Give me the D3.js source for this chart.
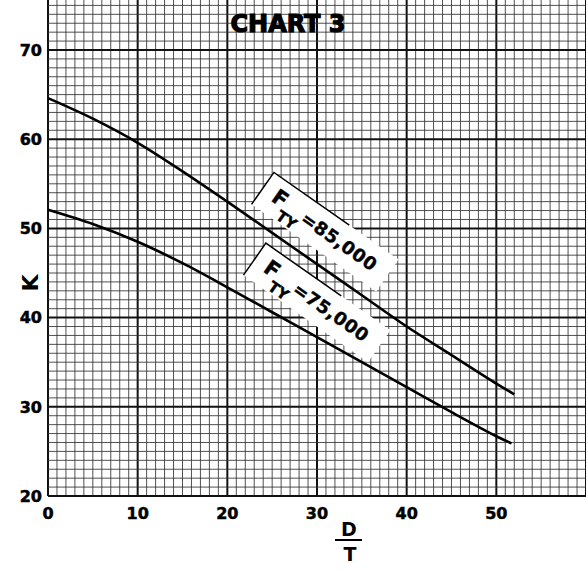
<!DOCTYPE html>
<html>
<head>
<meta charset="utf-8">
<script src="https://cdn.jsdelivr.net/npm/d3@7"></script>
<style>
  body { margin: 0; background: #fff; }
  text { font-family: "DejaVu Sans", sans-serif; font-weight: bold; fill: #000; }
</style>
</head>
<body>
<script>
    var width = 586;
    var height = 571;

    // D/T values and K
    var dtUpper = [0, 5, 10, 15, 20, 25, 30, 35, 40, 45, 50, 52];
    var kUpper = [64.6, 62.3, 59.6, 56.4, 53.0, 49.5, 46.0, 42.5, 39.0, 35.8, 32.6, 31.4];
    var dtLower = [0, 5, 10, 15, 20, 25, 30, 35, 40, 45, 50, 51.7];
    var kLower = [52.1, 50.5, 48.5, 46.1, 43.4, 40.6, 37.8, 35.0, 32.2, 29.4, 26.7, 25.9];

    var xTicks = [0, 10, 20, 30, 40, 50];
    var yTicks = [20, 30, 40, 50, 60, 70];
    var seriesNames = ["=85,000", "=75,000"];

    var svg = d3.select("body").append("svg")
      .attr("width", width)
      .attr("height", height);

    var x = d3.scaleLinear().domain([0, 60]).range([48, 586]);
    var y = d3.scaleLinear().domain([20, 70]).range([496, 50]);

    // graph paper
    var grid = svg.append("g");
    d3.range(0, 61).forEach(function(v){
      grid.append("line")
        .attr("x1", x(v)).attr("x2", x(v))
        .attr("y1", y(20)).attr("y2", 0)
        .attr("stroke", v % 10 == 0 ? "#111" : "#333")
        .attr("stroke-width", v % 10 == 0 ? 2 : 1)
        .attr("opacity", v % 10 == 0 ? 1 : 0.85);
    });
    d3.range(20, 76).forEach(function(v){
      grid.append("line")
        .attr("x1", x(0)).attr("x2", width)
        .attr("y1", y(v)).attr("y2", y(v))
        .attr("stroke", v % 10 == 0 ? "#111" : "#333")
        .attr("stroke-width", v % 10 == 0 ? 2 : 1)
        .attr("opacity", v % 10 == 0 ? 1 : 0.85);
    });

    // tick labels
    svg.selectAll(".xl").data(xTicks).enter().append("text")
      .attr("x", function(d){ return x(d); })
      .attr("y", 519)
      .attr("text-anchor", "middle")
      .style("font-size", "16px")
      .attr("stroke", "#000").attr("stroke-width", 0.5)
      .text(function(d){ return d; });

    svg.selectAll(".yl").data(yTicks).enter().append("text")
      .attr("x", 42)
      .attr("y", function(d){ return y(d); })
      .attr("dy", "0.36em")
      .attr("text-anchor", "end")
      .style("font-size", "16px")
      .attr("stroke", "#000").attr("stroke-width", 0.5)
      .text(function(d){ return d; });

    // axis titles
    svg.append("text")
      .attr("transform", "translate(38,283) rotate(-90)")
      .attr("text-anchor", "middle")
      .style("font-size", "22px")
      .text("K");

    svg.append("text")
      .attr("x", 349).attr("y", 536)
      .attr("text-anchor", "middle")
      .style("font-size", "19px")
      .text("D");
    svg.append("line")
      .attr("x1", 335).attr("x2", 362)
      .attr("y1", 540).attr("y2", 540)
      .attr("stroke", "#000").attr("stroke-width", 2);
    svg.append("text")
      .attr("x", 350).attr("y", 561)
      .attr("text-anchor", "middle")
      .style("font-size", "19px")
      .text("T");

    svg.append("text")
      .attr("x", 288).attr("y", 32)
      .attr("text-anchor", "middle")
      .style("font-size", "24px")
      .attr("stroke", "#000").attr("stroke-width", 1.2)
      .text("CHART 3");

    // curve labels (anchored at the first digit, in data units)
    var labelAnchors = [[30.56, 49.9], [29.66, 41.97]];
    var angle = 35;
    labelAnchors.forEach(function(a, i){
      var g = svg.append("g")
        .attr("transform", "translate(" + x(a[0]) + "," + y(a[1]) + ") rotate(" + angle + ")");
      g.append("rect")
        .attr("x", -72).attr("y", -19)
        .attr("width", 152).attr("height", 39)
        .attr("fill", "#fff");
      g.append("path")
        .attr("d", "M-72,20 L-72,-19 L20,-19")
        .attr("fill", "none")
        .attr("stroke", "#000").attr("stroke-width", 1.5);
      g.append("text")
        .attr("x", -59).attr("y", 6)
        .style("font-size", "21px")
        .attr("stroke", "#000").attr("stroke-width", 0.5)
        .text("F");
      g.append("text")
        .attr("x", -45).attr("y", 18)
        .style("font-size", "15px")
        .attr("stroke", "#000").attr("stroke-width", 0.4)
        .text("TY");
      g.append("text")
        .attr("x", -23).attr("y", 6.5)
        .style("font-size", "18px")
        .style("letter-spacing", "0.5px")
        .attr("stroke", "#000").attr("stroke-width", 0.4)
        .text(seriesNames[i]);
    });

    // curves
    var line = d3.line()
      .x(function(d){ return x(d[0]); })
      .y(function(d){ return y(d[1]); })
      .curve(d3.curveCatmullRom.alpha(0.5));

    [d3.zip(dtUpper, kUpper), d3.zip(dtLower, kLower)].forEach(function(pts){
      svg.append("path")
        .attr("d", line(pts))
        .attr("fill", "none")
        .attr("stroke", "#000")
        .attr("stroke-width", 2.6);
    });
</script>
</body>
</html>
